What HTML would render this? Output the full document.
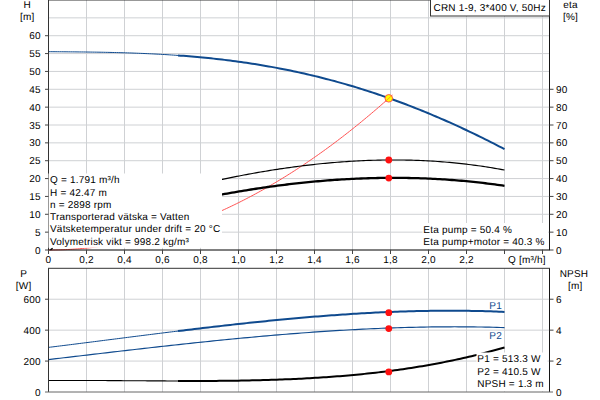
<!DOCTYPE html>
<html><head><meta charset="utf-8"><style>
html,body{margin:0;padding:0;background:#fff;width:600px;height:400px;overflow:hidden}
svg{display:block}
</style></head><body>
<svg width="600" height="400" viewBox="0 0 600 400">
<rect width="600" height="400" fill="#fff"/>
<path d="M86.5,0 V250 M124.5,0 V250 M162.5,0 V250 M200.5,0 V250 M238.5,0 V250 M276.5,0 V250 M314.5,0 V250 M352.5,0 V250 M390.5,0 V250 M428.5,0 V250 M466.5,0 V250 M504.5,0 V250 M542.5,0 V250 M48.5,232.143 H549.5 M48.5,214.286 H549.5 M48.5,196.429 H549.5 M48.5,178.571 H549.5 M48.5,160.714 H549.5 M48.5,142.857 H549.5 M48.5,125.000 H549.5 M48.5,107.143 H549.5 M48.5,89.286 H549.5 M48.5,71.429 H549.5 M48.5,53.571 H549.5 M48.5,35.714 H549.5 M48.5,17.857 H549.5 M86.5,268.3 V392.0 M124.5,268.3 V392.0 M162.5,268.3 V392.0 M200.5,268.3 V392.0 M238.5,268.3 V392.0 M276.5,268.3 V392.0 M314.5,268.3 V392.0 M352.5,268.3 V392.0 M390.5,268.3 V392.0 M428.5,268.3 V392.0 M466.5,268.3 V392.0 M504.5,268.3 V392.0 M542.5,268.3 V392.0 M48.5,361.075 H549.5 M48.5,330.150 H549.5 M48.5,299.225 H549.5" stroke="#cfd1d4" stroke-width="1" fill="none"/>
<path d="M48.50,250.00 L50.21,250.00 L51.92,249.98 L53.63,249.97 L55.34,249.94 L57.05,249.90 L58.76,249.86 L60.47,249.81 L62.18,249.75 L63.89,249.69 L65.60,249.62 L67.31,249.54 L69.02,249.45 L70.73,249.35 L72.44,249.25 L74.15,249.14 L75.86,249.02 L77.57,248.89 L79.28,248.76 L80.99,248.62 L82.70,248.47 L84.41,248.31 L86.12,248.15 L87.83,247.97 L89.54,247.79 L91.25,247.61 L92.96,247.41 L94.67,247.21 L96.38,247.00 L98.09,246.78 L99.80,246.55 L101.51,246.32 L103.22,246.08 L104.93,245.83 L106.64,245.57 L108.35,245.31 L110.06,245.04 L111.77,244.76 L113.48,244.47 L115.19,244.17 L116.90,243.87 L118.61,243.56 L120.32,243.24 L122.03,242.92 L123.74,242.58 L125.45,242.24 L127.16,241.90 L128.87,241.54 L130.58,241.18 L132.29,240.80 L134.00,240.42 L135.71,240.04 L137.42,239.64 L139.13,239.24 L140.84,238.83 L142.55,238.41 L144.26,237.99 L145.97,237.56 L147.68,237.12 L149.39,236.67 L151.10,236.21 L152.81,235.75 L154.52,235.28 L156.23,234.80 L157.94,234.31 L159.65,233.82 L161.36,233.32 L163.07,232.81 L164.78,232.29 L166.49,231.76 L168.20,231.23 L169.91,230.69 L171.62,230.14 L173.33,229.59 L175.04,229.03 L176.75,228.46 L178.46,227.88 L180.17,227.29 L181.88,226.70 L183.59,226.10 L185.30,225.49 L187.01,224.87 L188.72,224.25 L190.43,223.61 L192.14,222.97 L193.85,222.33 L195.56,221.67 L197.27,221.01 L198.98,220.34 L200.69,219.66 L202.40,218.98 L204.11,218.28 L205.82,217.58 L207.53,216.87 L209.24,216.16 L210.95,215.43 L212.66,214.70 L214.37,213.96 L216.08,213.22 L217.79,212.46 L219.50,211.70 L221.21,210.93 L222.92,210.15 L224.63,209.37 L226.34,208.57 L228.05,207.77 L229.76,206.96 L231.47,206.15 L233.18,205.32 L234.89,204.49 L236.60,203.65 L238.31,202.81 L240.02,201.95 L241.73,201.09 L243.44,200.22 L245.15,199.35 L246.86,198.46 L248.57,197.57 L250.28,196.67 L251.99,195.76 L253.70,194.85 L255.41,193.92 L257.12,192.99 L258.83,192.05 L260.54,191.11 L262.25,190.15 L263.96,189.19 L265.67,188.22 L267.38,187.25 L269.09,186.26 L270.80,185.27 L272.51,184.27 L274.22,183.26 L275.93,182.25 L277.64,181.23 L279.35,180.20 L281.06,179.16 L282.77,178.11 L284.48,177.06 L286.19,176.00 L287.90,174.93 L289.61,173.85 L291.32,172.77 L293.03,171.68 L294.74,170.58 L296.45,169.47 L298.16,168.36 L299.87,167.23 L301.58,166.10 L303.29,164.97 L305.00,163.82 L306.71,162.67 L308.42,161.51 L310.13,160.34 L311.84,159.16 L313.55,157.98 L315.26,156.79 L316.97,155.59 L318.68,154.38 L320.39,153.17 L322.10,151.95 L323.81,150.72 L325.52,149.48 L327.23,148.24 L328.94,146.98 L330.65,145.72 L332.36,144.46 L334.07,143.18 L335.78,141.90 L337.49,140.61 L339.20,139.31 L340.91,138.00 L342.62,136.69 L344.33,135.37 L346.04,134.04 L347.75,132.70 L349.46,131.36 L351.17,130.00 L352.88,128.64 L354.59,127.28 L356.30,125.90 L358.01,124.52 L359.72,123.13 L361.43,121.73 L363.14,120.33 L364.85,118.91 L366.56,117.49 L368.27,116.06 L369.98,114.63 L371.69,113.18 L373.40,111.73 L375.11,110.27 L376.82,108.80 L378.53,107.33 L380.24,105.85 L381.95,104.36 L383.66,102.86 L385.37,101.35 L387.08,99.84 L388.79,98.32" stroke="#ff4a4a" stroke-width="0.95" fill="none"/>
<path d="M220.00,179.84 L222.39,179.34 L224.78,178.84 L227.17,178.34 L229.56,177.86 L231.95,177.37 L234.34,176.90 L236.74,176.42 L239.13,175.96 L241.52,175.50 L243.91,175.04 L246.30,174.60 L248.69,174.15 L251.08,173.72 L253.47,173.28 L255.86,172.86 L258.25,172.44 L260.64,172.03 L263.03,171.62 L265.42,171.22 L267.82,170.82 L270.21,170.44 L272.60,170.05 L274.99,169.68 L277.38,169.31 L279.77,168.94 L282.16,168.59 L284.55,168.24 L286.94,167.89 L289.33,167.56 L291.72,167.23 L294.11,166.90 L296.50,166.58 L298.89,166.27 L301.29,165.97 L303.68,165.67 L306.07,165.38 L308.46,165.10 L310.85,164.83 L313.24,164.56 L315.63,164.30 L318.02,164.04 L320.41,163.79 L322.80,163.55 L325.19,163.32 L327.58,163.10 L329.97,162.88 L332.37,162.67 L334.76,162.46 L337.15,162.27 L339.54,162.08 L341.93,161.90 L344.32,161.73 L346.71,161.56 L349.10,161.41 L351.49,161.26 L353.88,161.11 L356.27,160.98 L358.66,160.85 L361.05,160.74 L363.45,160.63 L365.84,160.53 L368.23,160.43 L370.62,160.35 L373.01,160.27 L375.40,160.20 L377.79,160.14 L380.18,160.09 L382.57,160.04 L384.96,160.01 L387.35,159.98 L389.74,159.96 L392.13,159.95 L394.53,159.95 L396.92,159.96 L399.31,159.98 L401.70,160.00 L404.09,160.03 L406.48,160.08 L408.87,160.13 L411.26,160.19 L413.65,160.26 L416.04,160.34 L418.43,160.43 L420.82,160.52 L423.21,160.63 L425.61,160.74 L428.00,160.87 L430.39,161.00 L432.78,161.15 L435.17,161.30 L437.56,161.46 L439.95,161.63 L442.34,161.81 L444.73,162.00 L447.12,162.20 L449.51,162.42 L451.90,162.64 L454.29,162.86 L456.68,163.10 L459.08,163.35 L461.47,163.61 L463.86,163.88 L466.25,164.16 L468.64,164.45 L471.03,164.75 L473.42,165.06 L475.81,165.38 L478.20,165.71 L480.59,166.05 L482.98,166.40 L485.37,166.76 L487.76,167.14 L490.16,167.52 L492.55,167.91 L494.94,168.31 L497.33,168.73 L499.72,169.15 L502.11,169.59 L504.50,170.04" stroke="#000" stroke-width="1.15" fill="none"/>
<path d="M220.00,194.85 L222.39,194.41 L224.78,193.97 L227.17,193.54 L229.56,193.11 L231.95,192.69 L234.34,192.27 L236.74,191.86 L239.13,191.45 L241.52,191.05 L243.91,190.66 L246.30,190.27 L248.69,189.88 L251.08,189.50 L253.47,189.13 L255.86,188.76 L258.25,188.40 L260.64,188.04 L263.03,187.69 L265.42,187.35 L267.82,187.01 L270.21,186.67 L272.60,186.35 L274.99,186.02 L277.38,185.71 L279.77,185.40 L282.16,185.09 L284.55,184.79 L286.94,184.50 L289.33,184.21 L291.72,183.93 L294.11,183.66 L296.50,183.39 L298.89,183.12 L301.29,182.87 L303.68,182.62 L306.07,182.37 L308.46,182.13 L310.85,181.90 L313.24,181.67 L315.63,181.45 L318.02,181.24 L320.41,181.03 L322.80,180.83 L325.19,180.64 L327.58,180.45 L329.97,180.27 L332.37,180.09 L334.76,179.92 L337.15,179.76 L339.54,179.60 L341.93,179.45 L344.32,179.31 L346.71,179.17 L349.10,179.04 L351.49,178.91 L353.88,178.80 L356.27,178.69 L358.66,178.58 L361.05,178.48 L363.45,178.39 L365.84,178.31 L368.23,178.23 L370.62,178.16 L373.01,178.10 L375.40,178.04 L377.79,177.99 L380.18,177.95 L382.57,177.91 L384.96,177.88 L387.35,177.86 L389.74,177.85 L392.13,177.84 L394.53,177.84 L396.92,177.84 L399.31,177.85 L401.70,177.87 L404.09,177.90 L406.48,177.94 L408.87,177.98 L411.26,178.03 L413.65,178.08 L416.04,178.14 L418.43,178.21 L420.82,178.29 L423.21,178.38 L425.61,178.47 L428.00,178.57 L430.39,178.68 L432.78,178.79 L435.17,178.91 L437.56,179.04 L439.95,179.18 L442.34,179.32 L444.73,179.47 L447.12,179.63 L449.51,179.80 L451.90,179.98 L454.29,180.16 L456.68,180.35 L459.08,180.55 L461.47,180.75 L463.86,180.97 L466.25,181.19 L468.64,181.42 L471.03,181.65 L473.42,181.90 L475.81,182.15 L478.20,182.41 L480.59,182.68 L482.98,182.95 L485.37,183.24 L487.76,183.53 L490.16,183.83 L492.55,184.14 L494.94,184.45 L497.33,184.78 L499.72,185.11 L502.11,185.45 L504.50,185.80" stroke="#000" stroke-width="2.3" fill="none"/>
<path d="M48.50,51.68 L50.69,51.70 L52.89,51.71 L55.08,51.73 L57.28,51.74 L59.47,51.76 L61.67,51.78 L63.86,51.79 L66.06,51.81 L68.25,51.83 L70.45,51.85 L72.64,51.87 L74.84,51.89 L77.03,51.91 L79.23,51.94 L81.42,51.96 L83.62,51.98 L85.81,52.01 L88.01,52.04 L90.20,52.07 L92.40,52.10 L94.59,52.13 L96.79,52.17 L98.98,52.20 L101.18,52.24 L103.37,52.28 L105.57,52.33 L107.76,52.37 L109.96,52.42 L112.15,52.47 L114.35,52.52 L116.54,52.57 L118.74,52.63 L120.93,52.69 L123.13,52.75 L125.32,52.82 L127.52,52.89 L129.71,52.96 L131.91,53.03 L134.10,53.11 L136.30,53.19 L138.49,53.28 L140.69,53.36 L142.88,53.45 L145.08,53.55 L147.27,53.65 L149.47,53.75 L151.66,53.85 L153.86,53.96 L156.05,54.07 L158.25,54.19 L160.44,54.31 L162.64,54.44 L164.83,54.56 L167.03,54.70 L169.22,54.83 L171.42,54.98 L173.61,55.12 L175.81,55.27 L178.00,55.43" stroke="#0f4a8e" stroke-width="1.0" fill="none"/>
<path d="M178.00,55.43 L180.74,55.63 L183.49,55.83 L186.23,56.05 L188.97,56.27 L191.72,56.50 L194.46,56.73 L197.21,56.98 L199.95,57.23 L202.69,57.49 L205.44,57.76 L208.18,58.04 L210.92,58.32 L213.67,58.62 L216.41,58.92 L219.16,59.23 L221.90,59.55 L224.64,59.88 L227.39,60.21 L230.13,60.56 L232.87,60.91 L235.62,61.28 L238.36,61.65 L241.11,62.04 L243.85,62.43 L246.59,62.83 L249.34,63.24 L252.08,63.66 L254.82,64.09 L257.57,64.53 L260.31,64.98 L263.05,65.44 L265.80,65.91 L268.54,66.39 L271.29,66.88 L274.03,67.38 L276.77,67.89 L279.52,68.41 L282.26,68.95 L285.00,69.49 L287.75,70.04 L290.49,70.60 L293.24,71.18 L295.98,71.76 L298.72,72.36 L301.47,72.96 L304.21,73.58 L306.95,74.21 L309.70,74.85 L312.44,75.49 L315.18,76.15 L317.93,76.83 L320.67,77.51 L323.42,78.20 L326.16,78.91 L328.90,79.62 L331.65,80.35 L334.39,81.09 L337.13,81.84 L339.88,82.60 L342.62,83.37 L345.37,84.16 L348.11,84.95 L350.85,85.76 L353.60,86.58 L356.34,87.41 L359.08,88.25 L361.83,89.10 L364.57,89.96 L367.32,90.84 L370.06,91.73 L372.80,92.62 L375.55,93.54 L378.29,94.46 L381.03,95.39 L383.78,96.33 L386.52,97.29 L389.26,98.26 L392.01,99.24 L394.75,100.23 L397.50,101.23 L400.24,102.25 L402.98,103.27 L405.73,104.31 L408.47,105.36 L411.21,106.42 L413.96,107.49 L416.70,108.57 L419.45,109.67 L422.19,110.77 L424.93,111.89 L427.68,113.02 L430.42,114.16 L433.16,115.31 L435.91,116.48 L438.65,117.65 L441.39,118.83 L444.14,120.03 L446.88,121.24 L449.63,122.46 L452.37,123.69 L455.11,124.93 L457.86,126.18 L460.60,127.45 L463.34,128.72 L466.09,130.01 L468.83,131.30 L471.58,132.61 L474.32,133.93 L477.06,135.26 L479.81,136.60 L482.55,137.95 L485.29,139.31 L488.04,140.68 L490.78,142.06 L493.53,143.45 L496.27,144.85 L499.01,146.27 L501.76,147.69 L504.50,149.12" stroke="#0f4a8e" stroke-width="2" fill="none"/>
<circle cx="388.79" cy="98.32" r="3.8" fill="#ffff00" stroke="#ff4848" stroke-width="0.9"/>
<path d="M384.80,101.86 L385.22,101.49 L385.64,101.12 L386.06,100.75 L386.48,100.37 L386.90,100.00 L387.32,99.63 L387.74,99.26 L388.16,98.88 L388.58,98.51 L389.00,98.13 L389.42,97.76 L389.84,97.38 L390.26,97.01 L390.68,96.63 L391.10,96.26 L391.52,95.88 L391.94,95.50 L392.36,95.12 L392.78,94.74" stroke="#ff3a3a" stroke-opacity="0.6" stroke-width="0.9" fill="none"/>
<circle cx="388.79" cy="160.00" r="3.4" fill="#ff1010"/>
<circle cx="388.79" cy="178.04" r="3.4" fill="#ff1010"/>
<path d="M48.50,359.56 L52.33,359.11 L56.16,358.66 L60.00,358.21 L63.83,357.76 L67.66,357.31 L71.49,356.86 L75.32,356.41 L79.16,355.96 L82.99,355.51 L86.82,355.06 L90.65,354.61 L94.48,354.16 L98.32,353.71 L102.15,353.26 L105.98,352.81 L109.81,352.37 L113.64,351.92 L117.47,351.48 L121.31,351.03 L125.14,350.59 L128.97,350.15 L132.80,349.71 L136.63,349.27 L140.47,348.83 L144.30,348.39 L148.13,347.96 L151.96,347.53 L155.79,347.10 L159.63,346.67 L163.46,346.24 L167.29,345.82 L171.12,345.40 L174.95,344.98 L178.79,344.56 L182.62,344.14 L186.45,343.73 L190.28,343.32 L194.11,342.92 L197.95,342.51 L201.78,342.11 L205.61,341.71 L209.44,341.32 L213.27,340.93 L217.11,340.54 L220.94,340.15 L224.77,339.77 L228.60,339.40 L232.43,339.02 L236.26,338.65 L240.10,338.29 L243.93,337.92 L247.76,337.57 L251.59,337.21 L255.42,336.86 L259.26,336.52 L263.09,336.18 L266.92,335.84 L270.75,335.51 L274.58,335.18 L278.42,334.86 L282.25,334.54 L286.08,334.23 L289.91,333.92 L293.74,333.62 L297.58,333.32 L301.41,333.03 L305.24,332.74 L309.07,332.46 L312.90,332.19 L316.74,331.92 L320.57,331.66 L324.40,331.40 L328.23,331.15 L332.06,330.90 L335.89,330.66 L339.73,330.43 L343.56,330.20 L347.39,329.98 L351.22,329.77 L355.05,329.56 L358.89,329.36 L362.72,329.17 L366.55,328.98 L370.38,328.80 L374.21,328.63 L378.05,328.46 L381.88,328.30 L385.71,328.15 L389.54,328.01 L393.37,327.87 L397.21,327.74 L401.04,327.62 L404.87,327.51 L408.70,327.40 L412.53,327.31 L416.37,327.22 L420.20,327.14 L424.03,327.06 L427.86,327.00 L431.69,326.94 L435.53,326.90 L439.36,326.86 L443.19,326.83 L447.02,326.81 L450.85,326.80 L454.68,326.79 L458.52,326.80 L462.35,326.81 L466.18,326.84 L470.01,326.87 L473.84,326.91 L477.68,326.97 L481.51,327.03 L485.34,327.10 L489.17,327.18 L493.00,327.28 L496.84,327.38 L500.67,327.49 L504.50,327.61" stroke="#0f4a8e" stroke-width="1.15" fill="none"/>
<path d="M48.50,347.39 L50.69,347.12 L52.89,346.85 L55.08,346.58 L57.28,346.30 L59.47,346.03 L61.67,345.76 L63.86,345.48 L66.06,345.21 L68.25,344.93 L70.45,344.66 L72.64,344.38 L74.84,344.10 L77.03,343.83 L79.23,343.55 L81.42,343.27 L83.62,342.99 L85.81,342.71 L88.01,342.44 L90.20,342.16 L92.40,341.88 L94.59,341.60 L96.79,341.32 L98.98,341.04 L101.18,340.76 L103.37,340.48 L105.57,340.20 L107.76,339.92 L109.96,339.64 L112.15,339.36 L114.35,339.08 L116.54,338.80 L118.74,338.52 L120.93,338.24 L123.13,337.96 L125.32,337.68 L127.52,337.40 L129.71,337.12 L131.91,336.84 L134.10,336.56 L136.30,336.29 L138.49,336.01 L140.69,335.73 L142.88,335.45 L145.08,335.17 L147.27,334.90 L149.47,334.62 L151.66,334.35 L153.86,334.07 L156.05,333.79 L158.25,333.52 L160.44,333.25 L162.64,332.97 L164.83,332.70 L167.03,332.43 L169.22,332.15 L171.42,331.88 L173.61,331.61 L175.81,331.34 L178.00,331.07" stroke="#0f4a8e" stroke-width="1.0" fill="none"/>
<path d="M178.00,331.07 L180.74,330.74 L183.49,330.40 L186.23,330.07 L188.97,329.74 L191.72,329.41 L194.46,329.08 L197.21,328.75 L199.95,328.42 L202.69,328.10 L205.44,327.77 L208.18,327.45 L210.92,327.13 L213.67,326.81 L216.41,326.49 L219.16,326.18 L221.90,325.87 L224.64,325.55 L227.39,325.25 L230.13,324.94 L232.87,324.63 L235.62,324.33 L238.36,324.03 L241.11,323.73 L243.85,323.43 L246.59,323.13 L249.34,322.84 L252.08,322.55 L254.82,322.26 L257.57,321.98 L260.31,321.69 L263.05,321.41 L265.80,321.14 L268.54,320.86 L271.29,320.59 L274.03,320.32 L276.77,320.05 L279.52,319.78 L282.26,319.52 L285.00,319.26 L287.75,319.01 L290.49,318.75 L293.24,318.50 L295.98,318.26 L298.72,318.01 L301.47,317.77 L304.21,317.53 L306.95,317.30 L309.70,317.07 L312.44,316.84 L315.18,316.62 L317.93,316.39 L320.67,316.18 L323.42,315.96 L326.16,315.75 L328.90,315.54 L331.65,315.34 L334.39,315.14 L337.13,314.95 L339.88,314.75 L342.62,314.57 L345.37,314.38 L348.11,314.20 L350.85,314.02 L353.60,313.85 L356.34,313.68 L359.08,313.52 L361.83,313.36 L364.57,313.20 L367.32,313.05 L370.06,312.90 L372.80,312.76 L375.55,312.62 L378.29,312.49 L381.03,312.36 L383.78,312.23 L386.52,312.11 L389.26,311.99 L392.01,311.88 L394.75,311.77 L397.50,311.67 L400.24,311.58 L402.98,311.48 L405.73,311.40 L408.47,311.31 L411.21,311.23 L413.96,311.16 L416.70,311.09 L419.45,311.03 L422.19,310.97 L424.93,310.92 L427.68,310.88 L430.42,310.83 L433.16,310.80 L435.91,310.77 L438.65,310.74 L441.39,310.72 L444.14,310.71 L446.88,310.70 L449.63,310.69 L452.37,310.70 L455.11,310.71 L457.86,310.72 L460.60,310.74 L463.34,310.76 L466.09,310.80 L468.83,310.83 L471.58,310.88 L474.32,310.93 L477.06,310.98 L479.81,311.04 L482.55,311.11 L485.29,311.18 L488.04,311.26 L490.78,311.35 L493.53,311.44 L496.27,311.54 L499.01,311.65 L501.76,311.76 L504.50,311.88" stroke="#0f4a8e" stroke-width="2" fill="none"/>
<path d="M48.50,380.48 L50.69,380.47 L52.89,380.47 L55.08,380.46 L57.28,380.46 L59.47,380.45 L61.67,380.45 L63.86,380.45 L66.06,380.45 L68.25,380.45 L70.45,380.45 L72.64,380.45 L74.84,380.45 L77.03,380.46 L79.23,380.46 L81.42,380.47 L83.62,380.47 L85.81,380.48 L88.01,380.49 L90.20,380.50 L92.40,380.51 L94.59,380.52 L96.79,380.53 L98.98,380.54 L101.18,380.55 L103.37,380.56 L105.57,380.57 L107.76,380.58 L109.96,380.60 L112.15,380.61 L114.35,380.62 L116.54,380.64 L118.74,380.65 L120.93,380.66 L123.13,380.68 L125.32,380.69 L127.52,380.71 L129.71,380.72 L131.91,380.74 L134.10,380.75 L136.30,380.76 L138.49,380.78 L140.69,380.79 L142.88,380.81 L145.08,380.82 L147.27,380.83 L149.47,380.85 L151.66,380.86 L153.86,380.87 L156.05,380.88 L158.25,380.89 L160.44,380.90 L162.64,380.91 L164.83,380.92 L167.03,380.93 L169.22,380.94 L171.42,380.95 L173.61,380.95 L175.81,380.96 L178.00,380.97" stroke="#000" stroke-width="1.1" fill="none"/>
<path d="M178.00,380.97 L180.74,380.97 L183.49,380.98 L186.23,380.98 L188.97,380.98 L191.72,380.98 L194.46,380.97 L197.21,380.97 L199.95,380.96 L202.69,380.96 L205.44,380.95 L208.18,380.93 L210.92,380.92 L213.67,380.90 L216.41,380.88 L219.16,380.86 L221.90,380.84 L224.64,380.81 L227.39,380.78 L230.13,380.75 L232.87,380.71 L235.62,380.67 L238.36,380.63 L241.11,380.59 L243.85,380.54 L246.59,380.49 L249.34,380.43 L252.08,380.37 L254.82,380.31 L257.57,380.25 L260.31,380.18 L263.05,380.10 L265.80,380.03 L268.54,379.95 L271.29,379.86 L274.03,379.77 L276.77,379.68 L279.52,379.58 L282.26,379.48 L285.00,379.37 L287.75,379.26 L290.49,379.14 L293.24,379.02 L295.98,378.90 L298.72,378.77 L301.47,378.63 L304.21,378.49 L306.95,378.34 L309.70,378.19 L312.44,378.03 L315.18,377.87 L317.93,377.70 L320.67,377.53 L323.42,377.35 L326.16,377.16 L328.90,376.97 L331.65,376.77 L334.39,376.57 L337.13,376.35 L339.88,376.14 L342.62,375.91 L345.37,375.68 L348.11,375.45 L350.85,375.20 L353.60,374.95 L356.34,374.69 L359.08,374.43 L361.83,374.16 L364.57,373.88 L367.32,373.59 L370.06,373.30 L372.80,372.99 L375.55,372.68 L378.29,372.37 L381.03,372.04 L383.78,371.71 L386.52,371.37 L389.26,371.02 L392.01,370.66 L394.75,370.29 L397.50,369.92 L400.24,369.53 L402.98,369.14 L405.73,368.74 L408.47,368.33 L411.21,367.91 L413.96,367.48 L416.70,367.04 L419.45,366.59 L422.19,366.14 L424.93,365.67 L427.68,365.20 L430.42,364.71 L433.16,364.21 L435.91,363.71 L438.65,363.19 L441.39,362.67 L444.14,362.13 L446.88,361.58 L449.63,361.03 L452.37,360.46 L455.11,359.88 L457.86,359.29 L460.60,358.69 L463.34,358.08 L466.09,357.45 L468.83,356.82 L471.58,356.17 L474.32,355.52 L477.06,354.85 L479.81,354.17 L482.55,353.47 L485.29,352.77 L488.04,352.05 L490.78,351.32 L493.53,350.58 L496.27,349.83 L499.01,349.06 L501.76,348.28 L504.50,347.49" stroke="#000" stroke-width="2" fill="none"/>
<circle cx="388.79" cy="312.63" r="3.4" fill="#ff1010"/>
<circle cx="388.79" cy="328.53" r="3.4" fill="#ff1010"/>
<circle cx="388.79" cy="371.90" r="3.4" fill="#ff1010"/>
<path d="M48.5,0 V250 M48.5,268.3 V392" stroke="#333" stroke-width="1" fill="none"/>
<rect x="48.5" y="173.5" width="173.5" height="74.3" fill="#fff"/>
<rect x="422.5" y="223" width="125.5" height="26" fill="#fff"/>
<rect x="476.5" y="352.5" width="71" height="38.8" fill="#fff"/>
<path d="M50.4,249.9 L52.6,248.3" stroke="#000" stroke-width="1.3" fill="none"/>
<path d="M549.5,0 V250 M549.5,268.3 V392" stroke="#151515" stroke-width="1" fill="none"/>
<path d="M48,0 H550 M48,268.3 H550" stroke="#333" stroke-width="1" fill="none"/>
<path d="M48,250 H550" stroke="#000" stroke-width="1" fill="none"/>
<path d="M45,392.0 H553" stroke="#666" stroke-width="1" fill="none"/>
<path d="M45,250.000 H48.5 M45,232.143 H48.5 M45,214.286 H48.5 M45,196.429 H48.5 M45,178.571 H48.5 M45,160.714 H48.5 M45,142.857 H48.5 M45,125.000 H48.5 M45,107.143 H48.5 M45,89.286 H48.5 M45,71.429 H48.5 M45,53.571 H48.5 M45,35.714 H48.5 M549.5,250.000 H553.5 M549.5,232.143 H553.5 M549.5,214.286 H553.5 M549.5,196.429 H553.5 M549.5,178.571 H553.5 M549.5,160.714 H553.5 M549.5,142.857 H553.5 M549.5,125.000 H553.5 M549.5,107.143 H553.5 M549.5,89.286 H553.5 M48.5,250 V254 M86.5,250 V254 M124.5,250 V254 M162.5,250 V254 M200.5,250 V254 M238.5,250 V254 M276.5,250 V254 M314.5,250 V254 M352.5,250 V254 M390.5,250 V254 M428.5,250 V254 M466.5,250 V254 M504.5,250 V254 M542.5,250 V254 M45,361.075 H48.5 M45,330.150 H48.5 M45,299.225 H48.5 M549.5,361.075 H553.5 M549.5,330.150 H553.5 M549.5,299.225 H553.5" stroke="#444" stroke-width="1" fill="none"/>
<rect x="430.5" y="-0.5" width="119" height="16.5" fill="#fff" stroke="#333" stroke-width="1"/>
<g font-family="Liberation Sans, Arial, sans-serif" font-size="10" letter-spacing="0.2" text-rendering="geometricPrecision" fill="#000">
<text x="433.5" y="11">CRN 1-9, 3*400 V, 50Hz</text>
<text x="27.3" y="8.3" text-anchor="middle">H</text>
<text x="27.3" y="20.2" text-anchor="middle">[m]</text>
<text x="40.8" y="253.60" text-anchor="end">0</text>
<text x="40.8" y="235.74" text-anchor="end">5</text>
<text x="40.8" y="217.89" text-anchor="end">10</text>
<text x="40.8" y="200.03" text-anchor="end">15</text>
<text x="40.8" y="182.17" text-anchor="end">20</text>
<text x="40.8" y="164.31" text-anchor="end">25</text>
<text x="40.8" y="146.46" text-anchor="end">30</text>
<text x="40.8" y="128.60" text-anchor="end">35</text>
<text x="40.8" y="110.74" text-anchor="end">40</text>
<text x="40.8" y="92.89" text-anchor="end">45</text>
<text x="40.8" y="75.03" text-anchor="end">50</text>
<text x="40.8" y="57.17" text-anchor="end">55</text>
<text x="40.8" y="39.31" text-anchor="end">60</text>
<text x="570.5" y="8.1" text-anchor="middle">eta</text>
<text x="570.5" y="20.2" text-anchor="middle">[%]</text>
<text x="556" y="253.60">0</text>
<text x="556" y="235.74">10</text>
<text x="556" y="217.89">20</text>
<text x="556" y="200.03">30</text>
<text x="556" y="182.17">40</text>
<text x="556" y="164.31">50</text>
<text x="556" y="146.46">60</text>
<text x="556" y="128.60">70</text>
<text x="556" y="110.74">80</text>
<text x="556" y="92.89">90</text>
<text x="48.50" y="263.3" text-anchor="middle">0</text>
<text x="86.50" y="263.3" text-anchor="middle">0,2</text>
<text x="124.50" y="263.3" text-anchor="middle">0,4</text>
<text x="162.50" y="263.3" text-anchor="middle">0,6</text>
<text x="200.50" y="263.3" text-anchor="middle">0,8</text>
<text x="238.50" y="263.3" text-anchor="middle">1,0</text>
<text x="276.50" y="263.3" text-anchor="middle">1,2</text>
<text x="314.50" y="263.3" text-anchor="middle">1,4</text>
<text x="352.50" y="263.3" text-anchor="middle">1,6</text>
<text x="390.50" y="263.3" text-anchor="middle">1,8</text>
<text x="428.50" y="263.3" text-anchor="middle">2,0</text>
<text x="466.50" y="263.3" text-anchor="middle">2,2</text>
<text x="508" y="263.3">Q [m³/h]</text>
<text x="50" y="183.20">Q = 1.791 m³/h</text>
<text x="50" y="195.52">H = 42.47 m</text>
<text x="50" y="207.84">n = 2898 rpm</text>
<text x="50" y="220.16">Transporterad vätska = Vatten</text>
<text x="50" y="232.48">Vätsketemperatur under drift = 20 °C</text>
<text x="50" y="244.80">Volymetrisk vikt = 998.2 kg/m³</text>
<text x="423.3" y="232.8">Eta pump = 50.4 %</text>
<text x="423.3" y="244.8">Eta pump+motor = 40.3 %</text>
<text x="23.6" y="276.6" text-anchor="middle">P</text>
<text x="23.6" y="288.6" text-anchor="middle">[W]</text>
<text x="40.8" y="395.60" text-anchor="end">0</text>
<text x="40.8" y="364.68" text-anchor="end">200</text>
<text x="40.8" y="333.75" text-anchor="end">400</text>
<text x="40.8" y="302.83" text-anchor="end">600</text>
<text x="574" y="276.6" text-anchor="middle">NPSH</text>
<text x="575.2" y="288.6" text-anchor="middle">[m]</text>
<text x="556" y="395.60">0</text>
<text x="556" y="364.68">2</text>
<text x="556" y="333.75">4</text>
<text x="556" y="302.83">6</text>
<text x="489.3" y="308.6" fill="#0f4a8e">P1</text>
<text x="489.3" y="338.9" fill="#0f4a8e">P2</text>
<text x="477.3" y="361.8">P1 = 513.3 W</text>
<text x="477.3" y="374.8">P2 = 410.5 W</text>
<text x="477.3" y="386.8">NPSH = 1.3 m</text>
</g>
</svg>
</body></html>
